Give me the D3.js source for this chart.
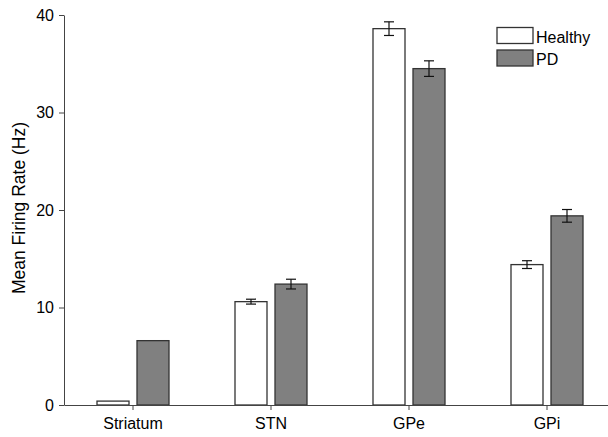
<!DOCTYPE html>
<html>
<head>
<meta charset="utf-8">
<script src="https://cdnjs.cloudflare.com/ajax/libs/d3/7.8.5/d3.min.js"></script>
<style>
  body { margin: 0; background: #fff; }
  text { font-family: "Liberation Sans", Arial, sans-serif; fill: #000; }
</style>
</head>
<body>
<div id="chart"></div>
<script>
// data
var regions = ["Striatum", "STN", "GPe", "GPi"];
var groups = ["Healthy", "PD"];
var healthy = [0.4, 10.6, 38.6, 14.4];
var healthyErr = [0, 0.25, 0.7, 0.4];
var pd = [6.6, 12.4, 34.5, 19.4];
var pdErr = [0, 0.5, 0.8, 0.65];
var yTicks = [0, 10, 20, 30, 40];

var width = 608, height = 437;
var margin = { top: 15, right: -8, bottom: 32, left: 64 };

var svg = d3.select("#chart").append("svg")
    .attr("width", width)
    .attr("height", height);

var x = d3.scaleBand()
    .domain(regions)
    .range([margin.left, width - margin.right]);

var y = d3.scaleLinear()
    .domain([0, 40])
    .range([height - margin.bottom, margin.top]);

var fills = { Healthy: "#ffffff", PD: "#808080" };
var barW = 32, gap = 4;

// flatten to one row per bar
var rows = [];
regions.forEach(function (r, i) {
    rows.push({ region: r, group: "Healthy", value: healthy[i], err: healthyErr[i], off: -gap - barW });
    rows.push({ region: r, group: "PD", value: pd[i], err: pdErr[i], off: gap });
});

// bars
svg.append("g").selectAll("rect")
    .data(rows)
    .enter().append("rect")
    .attr("x", function (d) { return x(d.region) + x.bandwidth() / 2 + d.off; })
    .attr("y", function (d) { return y(d.value); })
    .attr("width", barW)
    .attr("height", function (d) { return y(0) - y(d.value); })
    .attr("fill", function (d) { return fills[d.group]; })
    .attr("stroke", "#333")
    .attr("stroke-width", 1.3);

// error bars
var eb = svg.append("g").attr("stroke", "#111").attr("stroke-width", 1.2)
    .selectAll("g")
    .data(rows.filter(function (d) { return d.err > 0; }))
    .enter().append("g")
    .attr("transform", function (d) {
        return "translate(" + (x(d.region) + x.bandwidth() / 2 + d.off + barW / 2) + ",0)";
    });
eb.append("line")
    .attr("y1", function (d) { return y(d.value - d.err); })
    .attr("y2", function (d) { return y(d.value + d.err); });
eb.append("line").attr("x1", -5).attr("x2", 5)
    .attr("y1", function (d) { return y(d.value + d.err); })
    .attr("y2", function (d) { return y(d.value + d.err); });
eb.append("line").attr("x1", -5).attr("x2", 5)
    .attr("y1", function (d) { return y(d.value - d.err); })
    .attr("y2", function (d) { return y(d.value - d.err); });

// axes
var xAxis = svg.append("g")
    .attr("transform", "translate(0," + y(0) + ")")
    .call(d3.axisBottom(x).tickSize(5).tickSizeOuter(0));
var yAxis = svg.append("g")
    .attr("transform", "translate(" + margin.left + ",0)")
    .call(d3.axisLeft(y).tickValues(yTicks).tickSize(5).tickSizeOuter(0));

[xAxis, yAxis].forEach(function (a) {
    a.select(".domain").attr("stroke", "#444");
    a.selectAll(".tick line").attr("stroke", "#444");
    a.selectAll("text").style("font-size", "16px")
        .style("font-family", "'Liberation Sans', Arial, sans-serif").attr("fill", "#000");
});
xAxis.selectAll("text").attr("dy", "1.02em");
yAxis.selectAll("text").attr("x", -10);

// y label
svg.append("text")
    .attr("transform", "translate(25," + (margin.top + (y(0) - margin.top) / 2 - 2) + ") rotate(-90)")
    .attr("text-anchor", "middle")
    .style("font-size", "17.5px")
    .text("Mean Firing Rate (Hz)");

// legend
var legend = svg.append("g").attr("transform", "translate(497,27.5)")
    .selectAll("g").data(groups).enter().append("g")
    .attr("transform", function (d, i) { return "translate(0," + i * 22.5 + ")"; });
legend.append("rect")
    .attr("width", 36).attr("height", 16)
    .attr("fill", function (d) { return fills[d]; })
    .attr("stroke", "#333").attr("stroke-width", 1.3);
legend.append("text")
    .attr("x", 39).attr("y", 15)
    .style("font-size", "16px")
    .text(function (d) { return d; });
</script>
</body>
</html>
